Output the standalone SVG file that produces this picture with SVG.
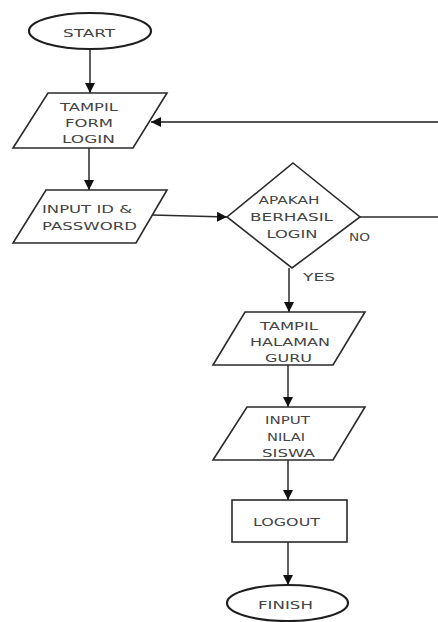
<svg xmlns="http://www.w3.org/2000/svg" width="438" height="622" viewBox="0 0 438 622">
  <defs>
    <marker id="arrow" viewBox="0 0 10 10" refX="10" refY="5" markerWidth="10" markerHeight="10" markerUnits="userSpaceOnUse" orient="auto">
      <path d="M0,0 L10,5 L0,10 Z" fill="#111"/>
    </marker>
  </defs>
  <style>
    .shape { fill: #ffffff; stroke: #2a2a2a; stroke-width: 1.6; }
    .term { fill: #ffffff; stroke: #1e1e1e; stroke-width: 2.2; }
    .line { fill: none; stroke: #2a2a2a; stroke-width: 1.5; }
    .loop { fill: none; stroke: #555; stroke-width: 2; }
    .t { font-family: "DejaVu Sans", "Liberation Sans", sans-serif; font-size: 11px; fill: #444; text-anchor: middle; }
  </style>
  <rect width="438" height="622" fill="#ffffff"/>

  <!-- connectors -->
  <g id="connectors">
    <line class="line" x1="90" y1="49" x2="90" y2="93" marker-end="url(#arrow)"/>
    <line class="line" x1="89" y1="148" x2="89" y2="190" marker-end="url(#arrow)"/>
    <line class="line" x1="152" y1="215" x2="227" y2="217" marker-end="url(#arrow)"/>
    <line class="line" x1="360" y1="217" x2="438" y2="217"/>
    <line class="loop" x1="438" y1="122" x2="151" y2="122" marker-end="url(#arrow)"/>
    <line class="line" x1="289" y1="268" x2="289" y2="312" marker-end="url(#arrow)"/>
    <line class="line" x1="288" y1="365" x2="288" y2="407" marker-end="url(#arrow)"/>
    <line class="line" x1="288" y1="460" x2="288" y2="500" marker-end="url(#arrow)"/>
    <line class="line" x1="288" y1="542" x2="288" y2="585" marker-end="url(#arrow)"/>
    <text class="t" x="359.5" y="241" textLength="21" lengthAdjust="spacingAndGlyphs">NO</text>
    <text class="t" x="319" y="281" textLength="32" lengthAdjust="spacingAndGlyphs">YES</text>
  </g>

  <!-- terminal: start -->
  <g id="start">
    <ellipse class="term" cx="90" cy="31" rx="61" ry="18"/>
    <text class="t" x="89" y="37" textLength="52" lengthAdjust="spacingAndGlyphs">START</text>
  </g>

  <!-- login form output -->
  <g id="tampil-form-login">
    <polygon class="shape" points="48,93 167,93 133,148 13,148"/>
    <text class="t" x="89" y="110.5" textLength="58" lengthAdjust="spacingAndGlyphs">TAMPIL</text>
    <text class="t" x="89" y="126.5" textLength="48" lengthAdjust="spacingAndGlyphs">FORM</text>
    <text class="t" x="88.5" y="142.5" textLength="53" lengthAdjust="spacingAndGlyphs">LOGIN</text>
  </g>

  <!-- credentials input -->
  <g id="input-id-password">
    <polygon class="shape" points="46,190 167,190 136,243 13,243"/>
    <text class="t" x="87" y="212.5" textLength="90" lengthAdjust="spacingAndGlyphs">INPUT ID &amp;</text>
    <text class="t" x="89.5" y="229.5" textLength="95" lengthAdjust="spacingAndGlyphs">PASSWORD</text>
  </g>

  <!-- decision -->
  <g id="apakah-berhasil-login">
    <polygon class="shape" points="293,163 360,217 292,268 227,217"/>
    <text class="t" x="289" y="204" textLength="61" lengthAdjust="spacingAndGlyphs">APAKAH</text>
    <text class="t" x="291.5" y="221" textLength="83" lengthAdjust="spacingAndGlyphs">BERHASIL</text>
    <text class="t" x="292" y="237.5" textLength="51" lengthAdjust="spacingAndGlyphs">LOGIN</text>
  </g>

  <!-- teacher page output -->
  <g id="tampil-halaman-guru">
    <polygon class="shape" points="245,312 365,312 333,365 213,365"/>
    <text class="t" x="289" y="329.5" textLength="58" lengthAdjust="spacingAndGlyphs">TAMPIL</text>
    <text class="t" x="290" y="346" textLength="80" lengthAdjust="spacingAndGlyphs">HALAMAN</text>
    <text class="t" x="288.5" y="362" textLength="47" lengthAdjust="spacingAndGlyphs">GURU</text>
  </g>

  <!-- grade input -->
  <g id="input-nilai-siswa">
    <polygon class="shape" points="247,407 365,407 333,460 213,460"/>
    <text class="t" x="287.5" y="424" textLength="45" lengthAdjust="spacingAndGlyphs">INPUT</text>
    <text class="t" x="286" y="441" textLength="38" lengthAdjust="spacingAndGlyphs">NILAI</text>
    <text class="t" x="288.5" y="457" textLength="53" lengthAdjust="spacingAndGlyphs">SISWA</text>
  </g>

  <!-- logout process -->
  <g id="logout">
    <rect class="shape" x="232" y="500" width="115" height="42"/>
    <text class="t" x="286.5" y="526" textLength="67" lengthAdjust="spacingAndGlyphs">LOGOUT</text>
  </g>

  <!-- terminal: finish -->
  <g id="finish">
    <ellipse class="term" cx="287.5" cy="603" rx="60.5" ry="18"/>
    <text class="t" x="285.5" y="609" textLength="55" lengthAdjust="spacingAndGlyphs">FINISH</text>
  </g>
</svg>
